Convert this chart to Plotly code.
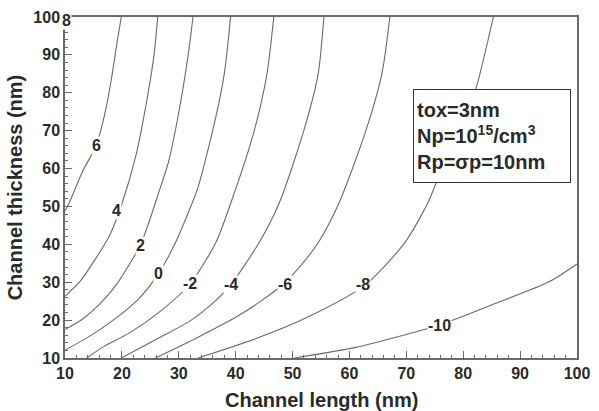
import plotly.graph_objects as go

# ---- data (channel length nm, channel thickness nm) ----
c6_x = [19.9, 19.2, 18.3, 17.3, 15.5, 13.1, 10.9, 10.0]
c6_y = [100.0, 93.8, 85.0, 76.5, 66.2, 59.3, 51.5, 48.7]

c4_x = [26.3, 25.6, 24.2, 22.5, 20.0, 17.8, 15.5, 12.8, 10.0]
c4_y = [100.0, 89.4, 76.5, 63.6, 50.7, 42.2, 36.5, 30.5, 26.3]

c2_x = [32.5, 31.6, 29.9, 28.2, 26.4, 24.7, 23.2, 19.0, 16.1, 13.1, 10.0]
c2_y = [100.0, 89.4, 74.0, 61.8, 53.3, 45.6, 39.7, 29.3, 24.2, 20.3, 17.5]

c0_x = [39.1, 38.0, 36.3, 33.4, 32.3, 29.4, 26.4, 23.0, 19.0, 14.3, 10.0]
c0_y = [100.0, 85.0, 72.2, 55.1, 50.7, 40.4, 32.2, 25.7, 20.6, 15.7, 12.1]

cm2_x = [46.7, 45.5, 43.2, 39.1, 36.5, 32.0, 26.4, 21.2, 17.0, 13.8]
cm2_y = [100.0, 85.0, 69.6, 50.7, 40.4, 29.6, 21.9, 16.5, 13.2, 10.0]

cm4_x = [55.5, 54.5, 51.9, 47.6, 44.1, 39.1, 35.5, 32.0, 26.4, 19.9]
cm4_y = [100.0, 85.0, 69.6, 50.7, 40.4, 29.3, 23.8, 19.8, 15.2, 10.0]

cm6_x = [67.1, 65.7, 62.8, 58.1, 54.5, 51.5, 48.6, 44.6, 40.3, 33.4, 25.9]
cm6_y = [100.0, 85.0, 69.6, 50.7, 40.4, 34.5, 29.8, 25.2, 21.0, 15.5, 10.0]

cm8_x = [85.3, 82.2, 79.2, 75.4, 73.7, 69.7, 62.8, 52.4, 43.7, 33.4]
cm8_y = [100.0, 80.9, 68.8, 56.7, 50.7, 40.4, 29.3, 20.6, 15.2, 10.0]

cm10_x = [50.3, 61.1, 68.0, 75.4, 80.1, 85.3, 95.1, 100.0]
cm10_y = [10.0, 12.8, 15.4, 18.5, 21.1, 24.2, 30.1, 34.8]

label_text = ["8", "6", "4", "2", "0", "-2", "-4", "-6", "-8", "-10"]
label_x = [10.3, 15.5, 19.0, 23.2, 26.4, 32.0, 39.1, 48.6, 62.4, 75.8]
label_y = [99.2, 66.2, 48.9, 39.7, 32.2, 29.6, 29.3, 29.5, 29.3, 18.5]

x_ticks = [10, 20, 30, 40, 50, 60, 70, 80, 90, 100]
y_ticks = [10, 20, 30, 40, 50, 60, 70, 80, 90, 100]

LINE = "#6a6a6a"
TXT = "#2a2a2a"
FONT = "Liberation Sans, Arial, sans-serif"

fig = go.Figure()
for xs, ys in [(c6_x, c6_y), (c4_x, c4_y), (c2_x, c2_y), (c0_x, c0_y),
               (cm2_x, cm2_y), (cm4_x, cm4_y), (cm6_x, cm6_y),
               (cm8_x, cm8_y), (cm10_x, cm10_y)]:
    fig.add_trace(go.Scatter(x=xs, y=ys, mode="lines",
                             line=dict(color=LINE, width=1.1, shape="spline", smoothing=0.7),
                             hoverinfo="skip", showlegend=False))

for t, lx, ly in zip(label_text, label_x, label_y):
    fig.add_annotation(x=lx, y=ly, xref="x", yref="y", text=t, showarrow=False,
                       font=dict(family=FONT, size=16, color=TXT, weight="bold"),
                       bgcolor="white", borderpad=0)

fig.add_annotation(xref="paper", yref="paper", x=0.679, y=0.788,
                   xanchor="left", yanchor="top", align="left", valign="middle",
                   text="tox=3nm<br>Np=10<sup>15</sup>/cm<sup>3</sup><br>Rp=σp=10nm",
                   showarrow=False, width=150, height=86, borderpad=3,
                   bordercolor="#333", borderwidth=1, bgcolor="white",
                   font=dict(family=FONT, size=20, color=TXT, weight="bold"))

fig.add_annotation(xref="paper", yref="paper", x=0.5, y=-0.123,
                   xanchor="center", yanchor="middle", text="Channel length (nm)",
                   showarrow=False,
                   font=dict(family=FONT, size=20, color=TXT, weight="bold"))
fig.add_annotation(xref="paper", yref="paper", x=-0.098, y=0.5,
                   xanchor="center", yanchor="middle", text="Channel thickness (nm)",
                   showarrow=False, textangle=-90,
                   font=dict(family=FONT, size=20, color=TXT, weight="bold"))

axis_common = dict(showgrid=False, zeroline=False, showline=True, mirror=True,
                   linecolor=LINE, linewidth=1.5, ticks="inside", ticklen=7,
                   tickwidth=1.2, tickcolor=LINE, range=[10, 100],
                   tickfont=dict(family=FONT, size=16, color=TXT, weight="bold"),
                   minor=dict(ticks="inside", ticklen=3.5, dtick=2, tickcolor=LINE,
                              tickwidth=1))
fig.update_xaxes(**axis_common, tickvals=x_ticks, ticktext=[str(v) for v in x_ticks])
fig.update_yaxes(**axis_common, tickvals=y_ticks, ticktext=[str(v) for v in y_ticks])

fig.update_layout(width=599, height=411, margin=dict(l=65, r=14, t=9, b=53),
                  plot_bgcolor="white", paper_bgcolor="white")

fig.write_html("out.html")
